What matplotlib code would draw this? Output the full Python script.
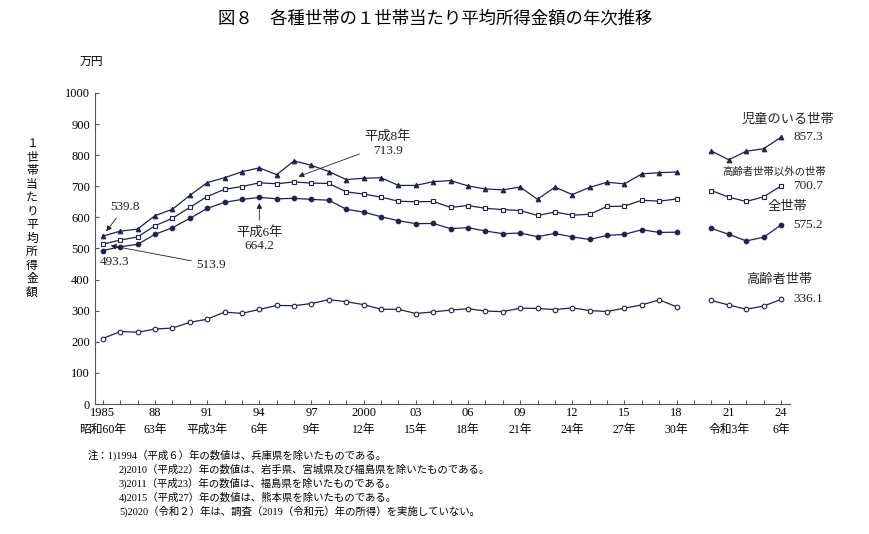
import matplotlib
matplotlib.use("Agg")
import matplotlib.pyplot as plt
import numpy as np

plt.rcParams['font.family'] = ['Liberation Serif', 'Noto Sans CJK JP', 'DejaVu Sans']

years1 = list(range(1985, 2019))
years2 = [2020, 2021, 2022, 2023, 2024]

all_hh1 = [493.3, 505.6, 513.2, 545.4, 566.7, 596.6, 628.7, 648.4, 657.5, 664.2, 659.6, 661.2, 657.7, 655.2,
           626.0, 616.9, 602.0, 589.3, 579.7, 580.4, 563.8, 566.8, 556.2, 547.5, 549.6, 538.0, 548.2, 537.2,
           528.9, 541.9, 545.4, 560.2, 551.6, 552.3]
all_hh2 = [564.3, 545.7, 524.2, 536.0, 575.2]
eld1 = [210.6, 233.1, 230.7, 241.1, 244.1, 262.6, 272.6, 295.3, 291.4, 304.0, 316.9, 316.0, 323.1, 335.5,
        328.9, 319.5, 304.6, 304.6, 290.9, 296.1, 301.9, 306.3, 298.9, 297.0, 307.9, 307.2, 303.6, 309.1,
        300.5, 297.3, 308.1, 318.6, 334.9, 312.6]
eld2 = [332.9, 318.3, 304.9, 314.8, 336.1]
child1 = [539.8, 555.6, 562.3, 605.5, 625.9, 670.4, 711.7, 727.3, 746.6, 759.1, 737.2, 781.6, 767.1, 747.4,
          721.4, 725.8, 727.2, 702.7, 702.6, 714.9, 718.0, 701.2, 691.4, 688.5, 697.3, 658.1, 697.0, 673.2,
          696.3, 712.9, 707.6, 739.8, 743.6, 745.9]
child2 = [813.5, 785.0, 812.6, 820.5, 857.3]
nonel1 = [513.9, 527.0, 537.0, 573.0, 597.0, 632.0, 667.0, 690.0, 699.0, 711.0, 708.0, 713.9, 710.0, 709.0,
          682.0, 675.0, 665.0, 652.0, 650.0, 651.0, 632.0, 638.0, 629.0, 625.0, 622.0, 606.0, 617.0, 607.0,
          610.0, 635.0, 636.0, 655.0, 652.0, 659.0]
nonel2 = [686.0, 665.0, 651.0, 666.0, 700.7]

yr_labels = ['1985', '88', '91', '94', '97', '2000', '03', '06', '09', '12', '15', '18', '21', '24']
era_labels = ['昭和60年', '63年', '平成3年', '6年', '9年', '12年', '15年', '18年', '21年', '24年', '27年', '30年', '令和3年', '6年']
yr_pos = [1985 + 3 * i for i in range(14)]

C = '#1b2450'
fig = plt.figure(figsize=(8.7, 5.34), dpi=100)
ax = fig.add_axes([0.109, 0.2434, 0.799, 0.5826])

def draw(x, y, marker, fill):
    ax.plot(x, y, color=C, lw=0.9, marker=marker, ms=3.3,
            mfc=C if fill else 'white', mec=C, mew=0.8)

for (a, b, m, f) in [(child1, child2, '^', True), (nonel1, nonel2, 's', False),
                     (all_hh1, all_hh2, 'o', True), (eld1, eld2, 'o', False)]:
    draw(years1, a, m, f)
    draw(years2, b, m, f)

ax.set_xlim(1984.54, 2024.52)
ax.set_ylim(0, 1000)
ax.set_yticks(range(0, 1001, 100))
ax.set_yticklabels([str(v) for v in range(0, 1001, 100)], fontsize=9)
ax.set_xticks(range(1985, 2025))
ax.set_xticklabels([])
ax.tick_params(axis='both', direction='in', length=3, color='#555555', width=0.8)
for s in ['top', 'right']:
    ax.spines[s].set_visible(False)
for s in ['left', 'bottom']:
    ax.spines[s].set_color('#555555')

for p, a, b in zip(yr_pos, yr_labels, era_labels):
    ax.text(p, -30, a, ha='center', va='center', fontsize=9)
    ax.text(p, -82, b, ha='center', va='center', fontsize=8.5)

kw = dict(fontsize=9.5, color='#222222')
arr = dict(arrowstyle='-|>', color='#222222', lw=0.6, mutation_scale=8)
ax.annotate('539.8', xy=(1985.1, 548), xytext=(1985.4, 633), ha='left', va='center',
            arrowprops=arr, **kw)
ax.text(1984.8, 458, '493.3', ha='left', va='center', **kw)
ax.annotate('513.9', xy=(1985.3, 511), xytext=(1990.4, 448), ha='left', va='center',
            arrowprops=arr, **kw)
ax.annotate('平成6年\n664.2', xy=(1994, 655), xytext=(1994, 530), ha='center', va='center',
            arrowprops=arr, linespacing=1.2, **kw)
ax.annotate('平成8年\n713.9', xy=(1996.1, 728), xytext=(2001.4, 838), ha='center', va='center',
            arrowprops=arr, linespacing=1.2, **kw)

rt = [('児童のいる世帯', 2024.4, 913, 9.5), ('高齢者世帯以外の世帯', 2023.6, 746, 7.5),
      ('全世帯', 2024.4, 632, 9.5), ('高齢者世帯', 2023.9, 400, 9.5)]
for t, x, y, fs in rt:
    ax.text(x, y, t, ha='center', va='center', fontsize=fs, color='#222222', clip_on=False)
for v, y in [('857.3', 858), ('700.7', 701), ('575.2', 576), ('336.1', 336)]:
    ax.text(2024.7, y, v, ha='left', va='center', clip_on=False, **kw)

fig.text(0.5, 0.966, '図８　各種世帯の１世帯当たり平均所得金額の年次推移', ha='center', va='center',
         fontsize=12.5, family=['Noto Sans CJK JP'])
fig.text(80 / 870, 1 - 62 / 534, '万円', ha='left', va='center', fontsize=8.5)
fig.text(32 / 870, 1 - 218 / 534, '\n'.join('１世帯当たり平均所得金額'), ha='center', va='center',
         fontsize=8.5, linespacing=1.05, family=['Noto Sans CJK JP'])

notes = ['注：1)1994（平成６）年の数値は、兵庫県を除いたものである。',
         '2)2010（平成22）年の数値は、岩手県、宮城県及び福島県を除いたものである。',
         '3)2011（平成23）年の数値は、福島県を除いたものである。',
         '4)2015（平成27）年の数値は、熊本県を除いたものである。',
         '5)2020（令和２）年は、調査（2019（令和元）年の所得）を実施していない。']
for i, n in enumerate(notes):
    x = 88 if i == 0 else 119
    fig.text(x / 870, 1 - (455 + 14 * i) / 534, n, ha='left', va='center', fontsize=7.5)

fig.savefig('out.png', dpi=100, facecolor='white')
